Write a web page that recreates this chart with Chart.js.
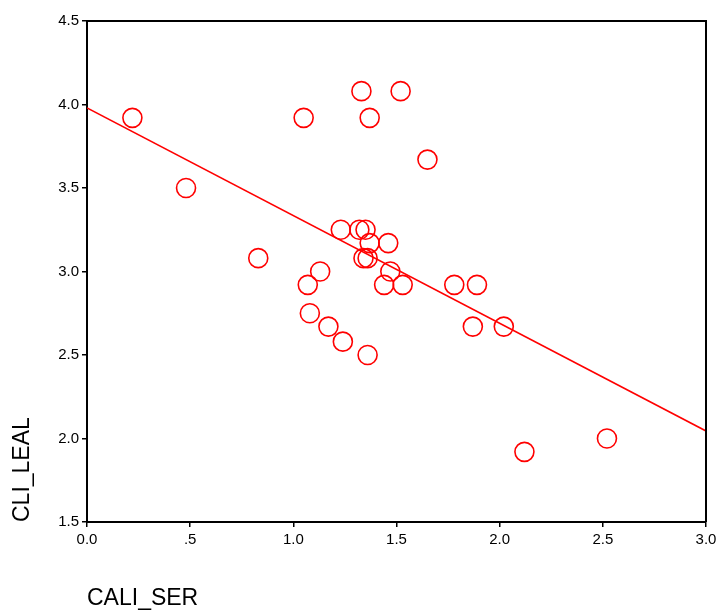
<!DOCTYPE html>
<html>
<head>
<meta charset="utf-8">
<script src="https://cdn.jsdelivr.net/npm/chart.js@4/dist/chart.umd.min.js"></script>
<style>
	body { margin: 0; background: #fff; }
</style>
</head>
<body>
<canvas id="myChart" width="723" height="610"></canvas>
<script>
	// CALI_SER vs CLI_LEAL
	var cali_ser = [0.22, 0.48, 0.83, 1.05, 1.33, 1.52, 1.37, 1.65, 1.23, 1.32, 1.35, 1.37, 1.46, 1.34, 1.36,
		1.13, 1.07, 1.47, 1.44, 1.53, 1.78, 1.89, 1.08, 1.17, 1.24, 1.36, 1.87, 2.02, 2.12, 2.52];
	var cli_leal = [3.92, 3.50, 3.08, 3.92, 4.08, 4.08, 3.92, 3.67, 3.25, 3.25, 3.25, 3.17, 3.17, 3.08, 3.08,
		3.00, 2.92, 3.00, 2.92, 2.92, 2.92, 2.92, 2.75, 2.67, 2.58, 2.50, 2.67, 2.67, 1.92, 2.00];
	var fit_x = [0, 3];
	var fit_y = [3.98, 2.045];
	var x_ticks = ['0.0', '.5', '1.0', '1.5', '2.0', '2.5', '3.0'];
	var y_ticks = ['1.5', '2.0', '2.5', '3.0', '3.5', '4.0', '4.5'];

	var points = cali_ser.map(function(v, i) { return {x: v, y: cli_leal[i]}; });
	var fitLine = fit_x.map(function(v, i) { return {x: v, y: fit_y[i]}; });

	// box on top and right side
	var framePlugin = {
		id: 'frame',
		afterDraw: function(chart) {
			var a = chart.chartArea, ctx = chart.ctx;
			ctx.save();
			ctx.strokeStyle = '#000';
			ctx.lineWidth = 2;
			ctx.beginPath();
			ctx.moveTo(a.left, a.top);
			ctx.lineTo(a.right, a.top);
			ctx.lineTo(a.right, a.bottom);
			ctx.stroke();
			ctx.restore();
		}
	};

	var font = "'Liberation Sans', Arial, sans-serif";
	var ctx = document.getElementById('myChart').getContext('2d');
	var myChart = new Chart(ctx, {
		type: 'scatter',
		data: {
			datasets: [{
				data: points,
				pointStyle: 'circle',
				pointRadius: 9.5,
				pointBorderWidth: 1.6,
				pointBorderColor: '#ff0000',
				pointBackgroundColor: 'transparent',
				showLine: false
			}, {
				data: fitLine,
				showLine: true,
				borderColor: '#ff0000',
				borderWidth: 1.6,
				pointRadius: 0,
				fill: false
			}]
		},
		options: {
			responsive: false,
			animation: false,
			layout: { padding: { top: 21, right: 17, left: 0, bottom: 0 } },
			plugins: {
				legend: { display: false },
				tooltip: { enabled: false }
			},
			scales: {
				x: {
					type: 'linear',
					min: 0,
					max: 3,
					afterBuildTicks: function(s) {
						s.ticks = x_ticks.map(function(t, i) { return {value: i * 0.5}; });
					},
					afterFit: function(s) { s.height = 88; },
					grid: { drawOnChartArea: false, drawTicks: true, tickLength: 5, color: '#000', lineWidth: 1.5 },
					border: { display: true, color: '#000', width: 2 },
					ticks: {
						color: '#000',
						padding: 4,
						maxRotation: 0,
						font: { family: font, size: 15 },
						callback: function(v, i) { return x_ticks[i]; }
					},
					title: {
						display: true,
						text: 'CALI_SER',
						align: 'start',
						color: '#000',
						padding: { top: 0, bottom: 0 },
						font: { family: font, size: 23, lineHeight: 1 }
					}
				},
				y: {
					type: 'linear',
					min: 1.5,
					max: 4.5,
					afterBuildTicks: function(s) {
						s.ticks = y_ticks.map(function(t, i) { return {value: 1.5 + i * 0.5}; });
					},
					afterFit: function(s) { s.width = 87; },
					grid: { drawOnChartArea: false, drawTicks: true, tickLength: 5, color: '#000', lineWidth: 1.5 },
					border: { display: true, color: '#000', width: 2 },
					ticks: {
						color: '#000',
						padding: 3,
						font: { family: font, size: 15 },
						callback: function(v, i) { return y_ticks[i]; }
					},
					title: {
						display: true,
						text: 'CLI_LEAL',
						align: 'start',
						color: '#000',
						padding: { top: 11, bottom: 0 },
						font: { family: font, size: 23, lineHeight: 1 }
					}
				}
			}
		},
		plugins: [framePlugin]
	});
</script>
</body>
</html>
